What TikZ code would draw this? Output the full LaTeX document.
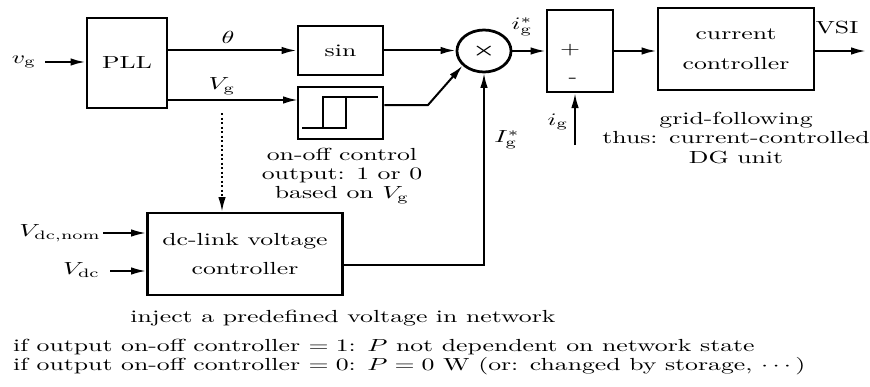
\documentclass[tikz,border=0pt]{standalone}
\usepackage{amsmath,amssymb,bm}
\usepackage{tikz}
\usetikzlibrary{arrows.meta,calc,positioning,shapes.geometric}

\tikzset{
  blk/.style={draw,line width=1.1pt,inner sep=1pt,align=center},
  sig/.style={line width=.8pt,->},
}

\begin{document}
\begin{tikzpicture}[x=0.4pt,y=-0.4pt,>={Latex[length=6pt,width=3pt]},
  every node/.append style={xscale=1.03,yscale=0.7,transform shape,font=\fontsize{10}{10.9}\selectfont}]
\useasboundingbox (0,0) rectangle (870,386);
% blocks
\node[blk,minimum width=31.1pt,minimum height=51.4pt] (pll) at (127,63) {PLL};
\node[blk,minimum width=33pt,minimum height=28pt] (sin) at (340.5,50.5) {sin};
\node[blk,minimum width=33pt,minimum height=29.7pt] (hyst) at (340.5,113) {};
\node[draw,ellipse,line width=1.1pt,inner sep=0pt,minimum width=21pt,minimum height=24pt] (mult) at (484,51) {$\bm{\times}$};
\node[blk,minimum width=25.6pt,minimum height=46.9pt] (sum) at (580,51) {};
\node[blk,minimum width=60.6pt,minimum height=46.9pt] (cc) at (736,49) {current\\[6.2pt]controller};
\node[blk,minimum width=75.7pt,minimum height=46.9pt] (dcl) at (245,254) {dc-link voltage\\[6.2pt]controller};
% hysteresis symbol
\draw[line width=.6pt] (302,128) -- (346,128) -- (346,97) -- (323,97) -- (323,128);
\draw[line width=.6pt] (346,97) -- (378,97);
% labels
\node (vg) at (24,62) {$v_{\mathrm{g}}$};
\node (theta) at (228,37) {$\theta$};
\node (Vg) at (222,86) {$V_{\mathrm{g}}$};
\node[inner sep=.5pt] (igref) at (522,27) {$i_{\mathrm{g}}^{*}$};
\node[inner sep=.5pt] (Igref) at (507,140) {$I_{\mathrm{g}}^{*}$};
\node (ig) at (558,122) {$i_{\mathrm{g}}$};
\node (vsi) at (837,28) {VSI};
\node (plus) at (570,50) {$+$};
\node (minus) at (573,80) {-};
\node[anchor=east] (vnom) at (110,233) {$V_{\mathrm{dc,nom}}$};
\node[anchor=east] (vdc) at (109,270) {$V_{\mathrm{dc}}$};
\node[align=center] (onoff) at (342,176) {on-off control\\output: 1 or 0\\based on $V_{\mathrm{g}}$};
\node[align=center] (gfl) at (736,138) {grid-following\\thus: current-controlled\\DG unit};
\node (inject) at (343,318) {inject a predefined voltage in network};
\node[anchor=west,align=left] (cases) at (4,357) {if output on-off controller $=1$: $P$ not dependent on network state\\if output on-off controller $=0$: $P=0$ W (or: changed by storage, $\cdots$)};
% free ends
\coordinate (vgin) at (45,62);
\coordinate (hin) at (298,100);
\coordinate (hbend) at (428,105);
\coordinate (dtop) at (222,113);
\coordinate (ibend) at (484,265);
\coordinate (igin) at (575,145);
\coordinate (out) at (866,51);
\coordinate (vnomin) at (103,233);
\coordinate (vdcin) at (110,271);
% connections
\draw[sig] (vgin) -- (vgin -| pll.west);
\draw[sig] (pll.east |- sin) -- (sin.west);
\draw[sig] (pll.east |- hin) -- (hin);
\draw[sig,densely dotted] (dtop) -- (dtop |- dcl.north);
\draw[sig] (sin.east) -- (sin.east -| mult.west);
\draw[sig] (hyst.east |- hbend) -- (hbend) -- (mult.-135);
\draw[sig] (mult.east) -- (sum.west);
\draw[sig] (sum.east) -- (sum.east -| cc.west);
\draw[sig] (cc.east |- out) -- (out);
\draw[sig] (igin) -- (igin |- sum.south);
\draw[sig] (dcl.east |- ibend) -- (ibend) -- (mult.south);
\draw[sig] (vnomin) -- (vnomin -| dcl.west);
\draw[sig] (vdcin) -- (vdcin -| dcl.west);
\end{tikzpicture}
\end{document}
